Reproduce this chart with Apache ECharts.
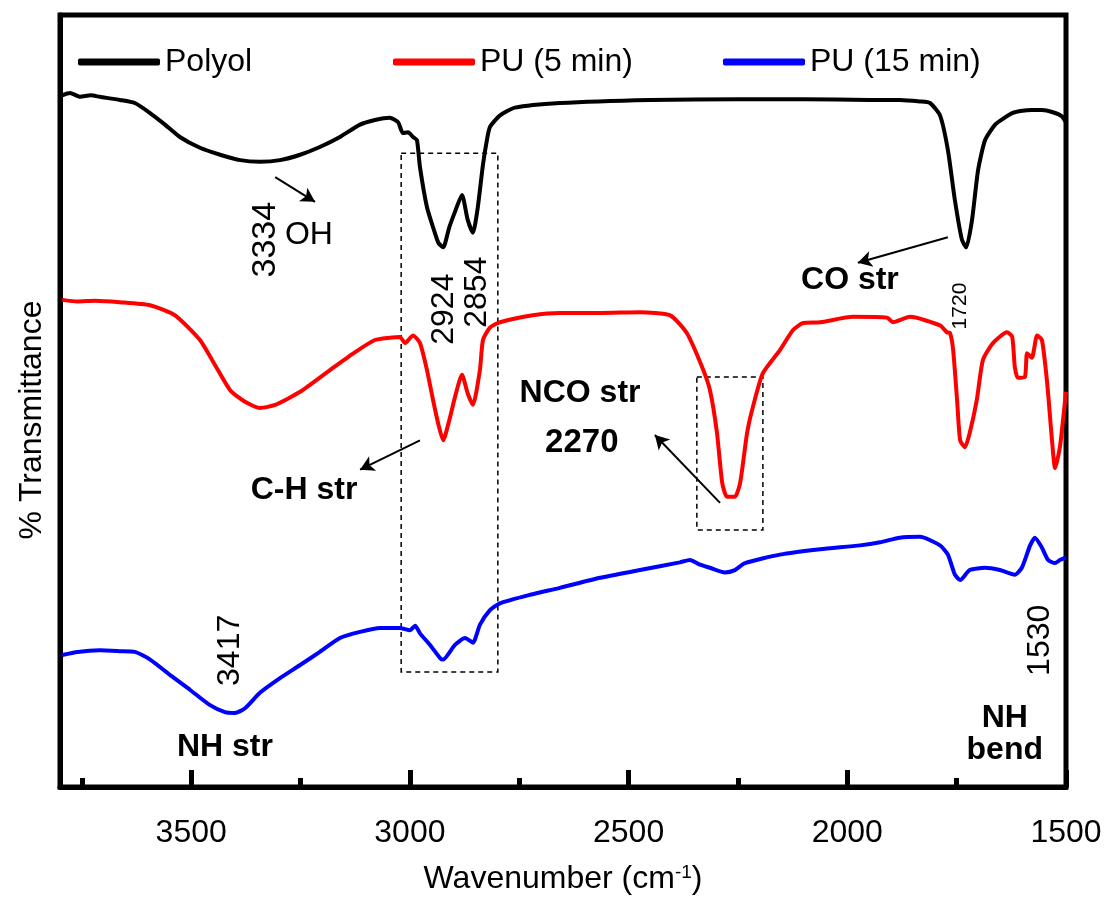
<!DOCTYPE html>
<html>
<head>
<meta charset="UTF-8">
<title>FTIR</title>
<script type="text/javascript" src="https://cdn.jsdelivr.net/npm/echarts@6/dist/echarts.min.js"></script>
<style>
  html, body { margin: 0; padding: 0; background: #fff; }
</style>
</head>
<body>
<div id="chart" style="width: 1115px; height: 901px;"></div>
<script type="text/javascript">
// wavenumber (cm-1) and transmittance (arbitrary, offset)
var wnPolyol = [3795,3777,3754,3730,3709,3663,3629,3594,3560,3526,3480,3434,3388,3343,3297,3251,3206,3160,3114,3080,3046,3027,3016,3004,2993,2984,2977,2961,2947,2935,2924,2910,2897,2881,2868,2856,2845,2833,2824,2817,2794,2760,2657,2451,2250,2100,1950,1880,1834,1811,1788,1770,1754,1738,1728,1715,1701,1685,1662,1640,1623,1600,1578,1555,1530,1510,1500];
var tPolyol = [89.6,89.9,89.4,89.6,89.4,89.0,88.6,87.3,85.8,84.2,82.8,81.9,81.2,81.0,81.2,81.9,82.9,84.2,85.8,86.4,86.7,86.1,84.7,84.8,84.2,83.8,80.3,75.1,72.5,70.5,69.9,72.5,74.5,76.7,73.5,71.8,75.0,80.6,83.8,85.5,87.0,88.0,88.6,89.0,89.1,89.1,89.0,89.0,88.8,88.6,87.0,82.5,76.0,70.9,69.9,73.4,79.9,83.8,85.8,86.7,87.3,87.6,87.7,87.7,87.4,86.9,86.1];

var wnPU5 = [3795,3760,3720,3663,3594,3537,3480,3446,3411,3377,3343,3308,3251,3183,3126,3080,3046,3023,3011,2993,2977,2961,2947,2935,2924,2910,2897,2881,2868,2856,2840,2833,2817,2794,2719,2657,2565,2474,2405,2367,2332,2314,2298,2286,2275,2257,2245,2229,2216,2193,2154,2124,2101,2062,1987,1909,1896,1857,1788,1772,1765,1758,1749,1742,1731,1720,1704,1690,1667,1635,1623,1617,1610,1594,1589,1578,1566,1555,1543,1532,1525,1514,1502,1500];
var tPU5 = [63.1,62.9,63.0,62.8,62.4,61.1,57.9,54.7,51.4,49.9,49.1,49.5,51.2,54.0,56.3,57.9,58.2,58.3,57.5,58.5,57.5,54.0,50.1,47.0,44.9,47.5,50.5,53.4,51.0,49.5,54.0,57.9,59.5,60.2,61.1,61.4,61.4,61.5,61.1,58.8,54.4,51.4,45.9,39.4,37.6,37.6,39.4,45.9,49.2,53.6,56.6,59.2,60.1,60.2,60.9,60.8,60.2,60.9,59.8,58.9,58.8,56.6,50.1,44.9,44.0,45.9,50.1,55.3,57.5,58.9,58.3,54.4,53.0,53.1,56.2,55.6,58.5,57.9,52.3,44.9,41.3,44.0,50.1,51.2];

var wnPU15 = [3795,3760,3709,3663,3629,3594,3548,3503,3457,3423,3400,3377,3343,3297,3251,3206,3160,3114,3068,3023,3000,2988,2977,2954,2931,2924,2897,2874,2856,2840,2817,2794,2725,2657,2565,2474,2383,2360,2337,2314,2280,2257,2234,2154,2062,1971,1925,1880,1834,1788,1770,1754,1742,1720,1685,1651,1617,1601,1582,1571,1555,1541,1525,1514,1500];
var tPU15 = [17.1,17.5,17.7,17.6,17.5,16.5,14.5,12.6,10.6,9.7,9.6,10.2,12.2,14.1,15.8,17.5,19.3,20.1,20.6,20.6,20.3,20.9,19.9,18.4,16.7,16.5,18.4,19.3,18.7,21.0,22.9,23.8,24.9,25.8,27.1,28.1,29.1,29.4,28.8,28.4,27.8,28.1,29.0,30.1,30.8,31.3,31.7,32.3,32.4,31.3,30.1,27.5,26.8,28.1,28.4,28.1,27.5,28.4,31.3,32.3,31.0,29.4,29.0,29.4,29.7];

// tick labels on the wavenumber axis
var xTickLabels = [3500, 3000, 2500, 2000, 1500];

// annotations: [text, wavenumber, transmittance, rotated, size, bold]
var notes = [
  ['3334', 3329, 70.9, true, 34, false],
  ['OH', 3231, 71.5, false, 32, false],
  ['2924', 2922, 61.9, true, 32, false],
  ['2854', 2847, 64.1, true, 32, false],
  ['1720', 1742, 62.3, true, 21, false],
  ['CO str', 1994, 65.7, false, 32, true],
  ['NCO str', 2611, 51.0, false, 32, true],
  ['2270', 2607, 44.6, false, 33, true],
  ['C-H str', 3242, 38.5, false, 32, true],
  ['3417', 3411, 17.7, true, 32, false],
  ['NH str', 3423, 5.1, false, 32, true],
  ['1530', 1560, 19.0, true, 32, false],
  ['NH', 1640, 8.9, false, 32, true],
  ['bend', 1640, 4.8, false, 32, true]
];
// arrows: from -> to (head at "to")
var arrows = [
  [[3308, 79.0], [3217, 75.8]],
  [[1770, 71.2], [1976, 67.9]],
  [[2291, 36.8], [2440, 45.6]],
  [[2977, 44.9], [3114, 41.1]]
];
// dashed boxes
var boxes = [
  [[3020, 82.1], [2799, 14.9]],
  [[2344, 53.1], [2193, 33.3]]
];

function pairs(xs, ys) {
  var out = [];
  for (var i = 0; i < xs.length; i++) out.push([xs[i], ys[i]]);
  return out;
}

var font = 'Liberation Sans, Arial, sans-serif';
var chart = echarts.init(document.getElementById('chart'));

var legendBase = {
  icon: 'roundRect', itemWidth: 82, itemHeight: 7, padding: 0, top: 46,
  textStyle: { fontFamily: font, fontSize: 32, color: '#000' },
  selectedMode: false
};

var option = {
  animation: false,
  backgroundColor: '#fff',
  legend: [
    Object.assign({}, legendBase, { data: ['Polyol'], left: 78 }),
    Object.assign({}, legendBase, { data: ['PU (5 min)'], left: 393 }),
    Object.assign({}, legendBase, { data: ['PU (15 min)'], left: 723 })
  ],
  grid: {
    left: 60, top: 15, width: 1006, height: 772,
    show: true, borderWidth: 5, borderColor: '#000', backgroundColor: 'transparent'
  },
  xAxis: [{
    type: 'value', min: 1500, max: 3800, interval: 500, inverse: true,
    axisLine: { show: true, lineStyle: { color: '#000', width: 5 } },
    axisTick: { show: true, inside: true, length: 17, lineStyle: { color: '#000', width: 5 } },
    axisLabel: {
      margin: 30, fontFamily: font, fontSize: 32, color: '#000',
      formatter: function (v) { return xTickLabels.indexOf(v) >= 0 ? String(v) : ''; }
    },
    splitLine: { show: false },
    name: 'Wavenumber (cm{sup|-1})',
    nameLocation: 'middle', nameGap: 76,
    nameTextStyle: {
      fontFamily: font, fontSize: 32, color: '#000',
      rich: { sup: { fontFamily: font, fontSize: 19, color: '#000', verticalAlign: 'top', padding: [0, 0, 14, 0] } }
    }
  }, {
    type: 'value', min: 1500, max: 3800, interval: 250, inverse: true,
    position: 'bottom',
    axisLine: { show: false },
    axisTick: { show: true, inside: true, length: 9, lineStyle: { color: '#000', width: 5 } },
    axisLabel: { show: false },
    splitLine: { show: false }
  }],
  yAxis: {
    type: 'value', min: 0, max: 100,
    axisLine: { show: true, lineStyle: { color: '#000', width: 5 } },
    axisTick: { show: false }, axisLabel: { show: false }, splitLine: { show: false },
    name: '% Transmittance', nameLocation: 'middle', nameGap: 12,
    nameTextStyle: { fontFamily: font, fontSize: 32, color: '#000', padding: [0, 38, 0, 0] }
  },
  series: [{
    name: 'Polyol', type: 'line', data: pairs(wnPolyol, tPolyol),
    showSymbol: false, smooth: 0.2, color: '#000', lineStyle: { width: 4 }, z: 3,
    markArea: {
      silent: true,
      itemStyle: { color: 'rgba(0,0,0,0)', borderColor: '#000', borderWidth: 1.5, borderType: [5, 4] },
      data: boxes.map(function (b) {
        return [{ coord: b[0] }, { coord: b[1] }];
      })
    },
    markLine: {
      silent: true, symbol: ['none', 'arrow'], symbolSize: [12, 14],
      label: { show: false },
      lineStyle: { color: '#000', width: 2, type: 'solid' },
      data: arrows.map(function (a) {
        return [{ coord: a[0] }, { coord: a[1] }];
      })
    }
  }, {
    name: 'PU (5 min)', type: 'line', data: pairs(wnPU5, tPU5),
    showSymbol: false, smooth: 0.2, color: '#ff0000', lineStyle: { width: 4 }, z: 3
  }, {
    name: 'PU (15 min)', type: 'line', data: pairs(wnPU15, tPU15),
    showSymbol: false, smooth: 0.2, color: '#0000ff', lineStyle: { width: 4 }, z: 3
  }]
};

chart.setOption(option);

// place the text annotations at their wavenumber / transmittance positions
var texts = notes.map(function (n) {
  var p = chart.convertToPixel({ gridIndex: 0 }, [n[1], n[2]]);
  return {
    type: 'text', x: p[0], y: p[1], rotation: n[3] ? Math.PI / 2 : 0, z: 10,
    style: {
      text: n[0], fontFamily: font, fontSize: n[4], fontWeight: n[5] ? 'bold' : 'normal',
      fill: '#000', align: 'center', verticalAlign: 'middle'
    }
  };
});
chart.setOption({ graphic: texts });
</script>
</body>
</html>
